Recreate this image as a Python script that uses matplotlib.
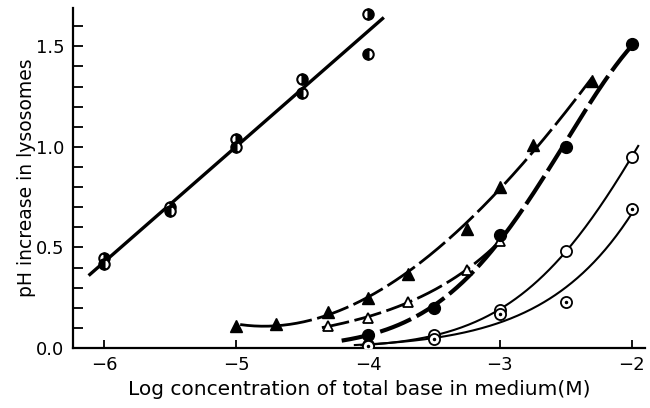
import numpy as np
import matplotlib
matplotlib.use("Agg")
import matplotlib.pyplot as plt
from matplotlib.ticker import MultipleLocator

# ---- data ----
half_x = [-6.0, -5.5, -5.0, -4.5, -4.0]
half_upper = [0.45, 0.70, 1.04, 1.34, 1.66]
half_lower = [0.42, 0.68, 1.00, 1.27, 1.46]

ftri_x = [-5.0, -4.7, -4.3, -4.0, -3.7, -3.25, -3.0, -2.75, -2.3]
ftri_y = [0.11, 0.12, 0.18, 0.25, 0.37, 0.59, 0.80, 1.01, 1.33]

otri_x = [-4.3, -4.0, -3.7, -3.25, -3.0]
otri_y = [0.11, 0.15, 0.23, 0.39, 0.53]

fcir_x = [-4.0, -3.5, -3.0, -2.5, -2.0]
fcir_y = [0.065, 0.20, 0.56, 1.00, 1.51]

ocir_x = [-4.0, -3.5, -3.0, -2.5, -2.0]
ocir_y = [0.015, 0.065, 0.19, 0.48, 0.95]

dcir_x = [-4.0, -3.5, -3.0, -2.5, -2.0]
dcir_y = [0.01, 0.045, 0.17, 0.23, 0.69]

xticks = [-6, -5, -4, -3, -2]
yticks = [0.0, 0.5, 1.0, 1.5]
ytick_labels = ["0.0", "0.5", "1.0", "1.5"]

plt.rcParams['font.family'] = ['DejaVu Sans']
fig = plt.figure(figsize=(6.5, 4.08), dpi=100)
ax = fig.add_axes([0.112, 0.147, 0.88, 0.833])


def fitpoly(x, y, deg, x0, x1):
    p = np.polyfit(x, y, deg)
    xs = np.linspace(x0, x1, 200)
    return xs, np.polyval(p, xs)


def fitlog(x, y, deg, x0, x1):
    y = np.asarray(y, dtype=float)
    p = np.polyfit(x, np.log(y), deg, w=np.sqrt(y))
    xs = np.linspace(x0, x1, 200)
    return xs, np.exp(np.polyval(p, xs))

# straight line through half-filled circles
xs, ys = fitpoly(half_x + half_x, half_upper + half_lower, 1, -6.12, -3.88)
ax.plot(xs, ys, color='black', lw=2.4, solid_capstyle='butt')

# filled triangles
xs, ys = fitpoly(ftri_x, ftri_y, 3, -4.97, -2.3)
ax.plot(xs, ys, color='black', lw=2.0, dashes=(12, 2))
# open triangles
xs, ys = fitlog(otri_x, otri_y, 2, -4.35, -3.0)
ax.plot(xs, ys, color='black', lw=2.0, dashes=(10, 2))
# filled circles
xs, ys = fitlog(fcir_x, fcir_y, 2, -4.2, -2.0)
ax.plot(xs, ys, color='black', lw=3.0, dashes=(8, 1.5))
# open circles
xs, ys = fitlog(ocir_x, ocir_y, 2, -4.05, -1.95)
ax.plot(xs, ys, color='black', lw=1.5)
# dotted circles
xs, ys = fitlog(dcir_x, dcir_y, 2, -4.1, -2.0)
ax.plot(xs, ys, color='black', lw=1.5)

ms = 7.5
ax.plot(half_x, half_upper, 'o', ms=ms, mec='black', mew=1.5, fillstyle='right',
        mfc='black', mfcalt='white', ls='none', zorder=5)
ax.plot(half_x, half_lower, 'o', ms=ms, mec='black', mew=1.5, fillstyle='left',
        mfc='black', mfcalt='white', ls='none', zorder=5)
ax.plot(ftri_x, ftri_y, '^', ms=8, color='black', ls='none', zorder=5)
ax.plot(otri_x, otri_y, '^', ms=7.5, mfc='white', mec='black', mew=1.3, ls='none', zorder=5)
ax.plot(fcir_x, fcir_y, 'o', ms=8.5, color='black', ls='none', zorder=5)
ax.plot(ocir_x, ocir_y, 'o', ms=8, mfc='white', mec='black', mew=1.3, ls='none', zorder=5)
ax.plot(dcir_x, dcir_y, 'o', ms=8, mfc='white', mec='black', mew=1.3, ls='none', zorder=5)
ax.plot(dcir_x, dcir_y, '.', ms=3, color='black', ls='none', zorder=6)

ax.set_xlim(-6.24, -1.9)
ax.set_ylim(0.0, 1.69)
for s in ['top', 'right']:
    ax.spines[s].set_visible(False)
ax.spines['left'].set_linewidth(1.6)
ax.spines['bottom'].set_linewidth(1.6)

ax.set_xticks(xticks)
ax.set_xticklabels(["\u2212%d" % abs(v) for v in xticks])
ax.set_yticks(yticks)
ax.set_yticklabels(ytick_labels)
ax.yaxis.set_minor_locator(MultipleLocator(0.1))
ax.tick_params(axis='x', direction='in', length=6, width=1.3, labelsize=13, pad=6)
ax.tick_params(axis='y', which='both', direction='in', length=7, width=1.3, labelsize=13, pad=6)

ax.set_xlabel("Log concentration of total base in medium(M)", fontsize=14.5, labelpad=4)
ax.set_ylabel("pH increase in lysosomes", fontsize=13.5, labelpad=0)

fig.savefig("out.png", dpi=100)
